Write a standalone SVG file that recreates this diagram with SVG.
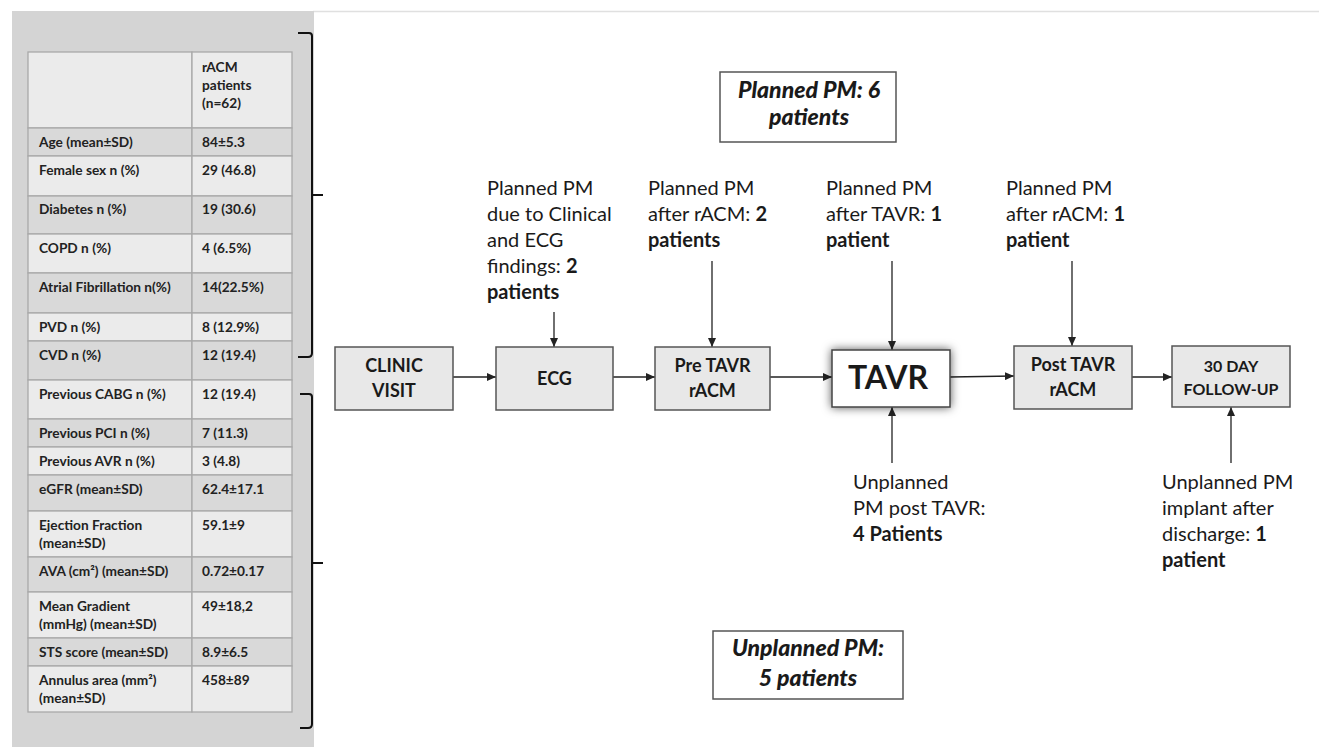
<svg xmlns="http://www.w3.org/2000/svg" width="1319" height="747" viewBox="0 0 1319 747">
<style>
.tb{font-family:Lato,"Open Sans","Liberation Sans",sans-serif;font-weight:bold;font-size:13.7px;fill:#222}
.rl{fill:#ebebeb;stroke:#a9a9a9;stroke-width:1.3}
.rd{fill:#d9d9d9;stroke:#a9a9a9;stroke-width:1.3}
.br{fill:none;stroke:#111;stroke-width:2}
.box{fill:#e8e8e8;stroke:#555;stroke-width:1.5}
.bt{font-family:Lato,"Open Sans","Liberation Sans",sans-serif;font-weight:bold;font-size:18px;fill:#1a1a1a;text-anchor:middle}
.lb{font-family:Lato,"Open Sans","Liberation Sans",sans-serif;font-size:20px;fill:#1a1a1a}
.lb .b{font-weight:bold}
.sum{fill:#fff;stroke:#555;stroke-width:1.5}
.st{font-family:Lato,"Open Sans","Liberation Sans",sans-serif;font-weight:900;font-style:italic;font-size:23px;fill:#1a1a1a;text-anchor:middle}
.cn{stroke:#222;stroke-width:1.3;fill:none;marker-end:url(#ah)}
</style>
<defs>
<marker id="ah" markerUnits="userSpaceOnUse" markerWidth="9" markerHeight="8" refX="9" refY="4" orient="auto">
<path d="M0,0 L9,4 L0,8 z" fill="#222"/>
</marker>
<filter id="glow" x="-30%" y="-40%" width="160%" height="180%">
<feDropShadow dx="0" dy="0" stdDeviation="5" flood-color="#000" flood-opacity="0.65"/>
</filter>
</defs>
<rect width="1319" height="747" fill="#fff"/>
<line x1="313" y1="11.5" x2="1319" y2="11.5" stroke="#e0e0e0" stroke-width="1.5"/>

<g id="table-panel">
<rect x="12" y="11" width="302" height="736" fill="#d4d4d4"/>
<rect class="rl" x="28" y="52" width="164" height="76"/><rect class="rl" x="192" y="52" width="100" height="76"/>
<rect class="rd" x="28" y="128" width="164" height="28"/><rect class="rd" x="192" y="128" width="100" height="28"/>
<rect class="rl" x="28" y="156" width="164" height="40"/><rect class="rl" x="192" y="156" width="100" height="40"/>
<rect class="rd" x="28" y="196" width="164" height="38"/><rect class="rd" x="192" y="196" width="100" height="38"/>
<rect class="rl" x="28" y="234" width="164" height="39"/><rect class="rl" x="192" y="234" width="100" height="39"/>
<rect class="rd" x="28" y="273" width="164" height="40"/><rect class="rd" x="192" y="273" width="100" height="40"/>
<rect class="rl" x="28" y="313" width="164" height="28"/><rect class="rl" x="192" y="313" width="100" height="28"/>
<rect class="rd" x="28" y="341" width="164" height="39"/><rect class="rd" x="192" y="341" width="100" height="39"/>
<rect class="rl" x="28" y="380" width="164" height="39"/><rect class="rl" x="192" y="380" width="100" height="39"/>
<rect class="rd" x="28" y="419" width="164" height="28"/><rect class="rd" x="192" y="419" width="100" height="28"/>
<rect class="rl" x="28" y="447" width="164" height="28"/><rect class="rl" x="192" y="447" width="100" height="28"/>
<rect class="rd" x="28" y="475" width="164" height="36"/><rect class="rd" x="192" y="475" width="100" height="36"/>
<rect class="rl" x="28" y="511" width="164" height="46"/><rect class="rl" x="192" y="511" width="100" height="46"/>
<rect class="rd" x="28" y="557" width="164" height="35"/><rect class="rd" x="192" y="557" width="100" height="35"/>
<rect class="rl" x="28" y="592" width="164" height="46"/><rect class="rl" x="192" y="592" width="100" height="46"/>
<rect class="rd" x="28" y="638" width="164" height="28"/><rect class="rd" x="192" y="638" width="100" height="28"/>
<rect class="rl" x="28" y="666" width="164" height="46"/><rect class="rl" x="192" y="666" width="100" height="46"/>

<text class="tb" x="202" y="72">rACM</text>
<text class="tb" x="202" y="90">patients</text>
<text class="tb" x="202" y="108">(n=62)</text>

<text class="tb" x="39" y="147">Age (mean±SD)</text><text class="tb" x="202" y="147">84±5.3</text>
<text class="tb" x="39" y="175">Female sex n (%)</text><text class="tb" x="202" y="175">29 (46.8)</text>
<text class="tb" x="39" y="214">Diabetes n (%)</text><text class="tb" x="202" y="214">19 (30.6)</text>
<text class="tb" x="39" y="253">COPD n (%)</text><text class="tb" x="202" y="253">4 (6.5%)</text>
<text class="tb" x="39" y="292">Atrial  Fibrillation n(%)</text><text class="tb" x="202" y="292">14(22.5%)</text>
<text class="tb" x="39" y="332">PVD n (%)</text><text class="tb" x="202" y="332">8 (12.9%)</text>
<text class="tb" x="39" y="360">CVD n (%)</text><text class="tb" x="202" y="360">12 (19.4)</text>
<text class="tb" x="39" y="399">Previous CABG n (%)</text><text class="tb" x="202" y="399">12 (19.4)</text>
<text class="tb" x="39" y="438">Previous PCI n (%)</text><text class="tb" x="202" y="438">7 (11.3)</text>
<text class="tb" x="39" y="466">Previous AVR n (%)</text><text class="tb" x="202" y="466">3 (4.8)</text>
<text class="tb" x="39" y="494">eGFR (mean±SD)</text><text class="tb" x="202" y="494">62.4±17.1</text>
<text class="tb" x="39" y="530">Ejection Fraction</text><text class="tb" x="39" y="548">(mean±SD)</text><text class="tb" x="202" y="530">59.1±9</text>
<text class="tb" x="39" y="576">AVA (cm²) (mean±SD)</text><text class="tb" x="202" y="576">0.72±0.17</text>
<text class="tb" x="39" y="611">Mean Gradient</text><text class="tb" x="39" y="629">(mmHg) (mean±SD)</text><text class="tb" x="202" y="611">49±18,2</text>
<text class="tb" x="39" y="657">STS score (mean±SD)</text><text class="tb" x="202" y="657">8.9±6.5</text>
<text class="tb" x="39" y="685">Annulus area (mm²)</text><text class="tb" x="39" y="703">(mean±SD)</text><text class="tb" x="202" y="685">458±89</text>
</g>

<g id="brackets">
<path class="br" d="M298,33 H309 Q312,33 312,36 V353 Q312,357 308,357 H298 M312,195 H323"/>
<path class="br" d="M300,394 H309 Q312,394 312,397 V724 Q312,728 308,728 H300 M312,563 H323"/>
</g>

<g id="connectors">
<line class="cn" x1="453" y1="377" x2="496" y2="377"/>
<line class="cn" x1="613" y1="377" x2="655" y2="377"/>
<line class="cn" x1="770" y1="377" x2="832" y2="377"/>
<line class="cn" x1="950" y1="377" x2="1014" y2="376"/>
<line class="cn" x1="1132" y1="377" x2="1172" y2="377"/>
<line class="cn" x1="554" y1="312" x2="554" y2="347"/>
<line class="cn" x1="712" y1="261" x2="712" y2="347"/>
<line class="cn" x1="892" y1="261" x2="892" y2="350"/>
<line class="cn" x1="1072" y1="261" x2="1072" y2="346"/>
<line class="cn" x1="892" y1="463" x2="892" y2="407"/>
<line class="cn" x1="1231" y1="463" x2="1231" y2="407"/>
</g>

<g id="clinic-visit">
<rect class="box" x="335" y="347" width="118" height="63"/>
<text class="bt" x="394" y="372">CLINIC</text><text class="bt" x="394" y="397">VISIT</text>
</g>
<g id="ecg">
<rect class="box" x="496" y="347" width="117" height="63"/>
<text class="bt" x="554.5" y="385">ECG</text>
</g>
<g id="pre-tavr">
<rect class="box" x="655" y="347" width="115" height="63"/>
<text class="bt" x="712.5" y="372">Pre TAVR</text><text class="bt" x="712.5" y="397">rACM</text>
</g>
<g id="tavr">
<rect x="832" y="350" width="118" height="57" fill="#fff" stroke="#444" stroke-width="1.5" filter="url(#glow)"/>
<text class="bt" x="888" y="389" style="font-size:32px">TAVR</text>
</g>
<g id="post-tavr">
<rect class="box" x="1014" y="346" width="118" height="63"/>
<text class="bt" x="1073" y="371">Post TAVR</text><text class="bt" x="1073" y="396">rACM</text>
</g>
<g id="follow-up">
<rect class="box" x="1172" y="346" width="118" height="61"/>
<text class="bt" x="1231" y="372" style="font-size:16px">30 DAY</text><text class="bt" x="1231" y="395" style="font-size:16px">FOLLOW-UP</text>
</g>

<g id="planned-summary">
<rect class="sum" x="720" y="72" width="176" height="70"/>
<text class="st" x="809" y="98">Planned PM: 6</text><text class="st" x="809" y="125">patients</text>
</g>
<g id="unplanned-summary">
<rect class="sum" x="713" y="631" width="190" height="68"/>
<text class="st" x="808" y="656">Unplanned PM:</text><text class="st" x="808" y="686">5 patients</text>
</g>

<g id="label-ecg">
<text class="lb" x="487" y="195">Planned PM</text>
<text class="lb" x="487" y="221">due to Clinical</text>
<text class="lb" x="487" y="247">and ECG</text>
<text class="lb" x="487" y="273">findings: <tspan class="b">2</tspan></text>
<text class="lb" x="487" y="299"><tspan class="b">patients</tspan></text>
</g>
<g id="label-pre">
<text class="lb" x="648" y="195">Planned PM</text>
<text class="lb" x="648" y="221">after rACM: <tspan class="b">2</tspan></text>
<text class="lb" x="648" y="247"><tspan class="b">patients</tspan></text>
</g>
<g id="label-tavr">
<text class="lb" x="826" y="195">Planned PM</text>
<text class="lb" x="826" y="221">after TAVR: <tspan class="b">1</tspan></text>
<text class="lb" x="826" y="247"><tspan class="b">patient</tspan></text>
</g>
<g id="label-post">
<text class="lb" x="1006" y="195">Planned PM</text>
<text class="lb" x="1006" y="221">after rACM: <tspan class="b">1</tspan></text>
<text class="lb" x="1006" y="247"><tspan class="b">patient</tspan></text>
</g>
<g id="label-unplanned-tavr">
<text class="lb" x="853" y="489">Unplanned</text>
<text class="lb" x="853" y="515">PM post TAVR:</text>
<text class="lb" x="853" y="541"><tspan class="b">4 Patients</tspan></text>
</g>
<g id="label-unplanned-discharge">
<text class="lb" x="1162" y="489">Unplanned PM</text>
<text class="lb" x="1162" y="515">implant after</text>
<text class="lb" x="1162" y="541">discharge: <tspan class="b">1</tspan></text>
<text class="lb" x="1162" y="567"><tspan class="b">patient</tspan></text>
</g>
</svg>
